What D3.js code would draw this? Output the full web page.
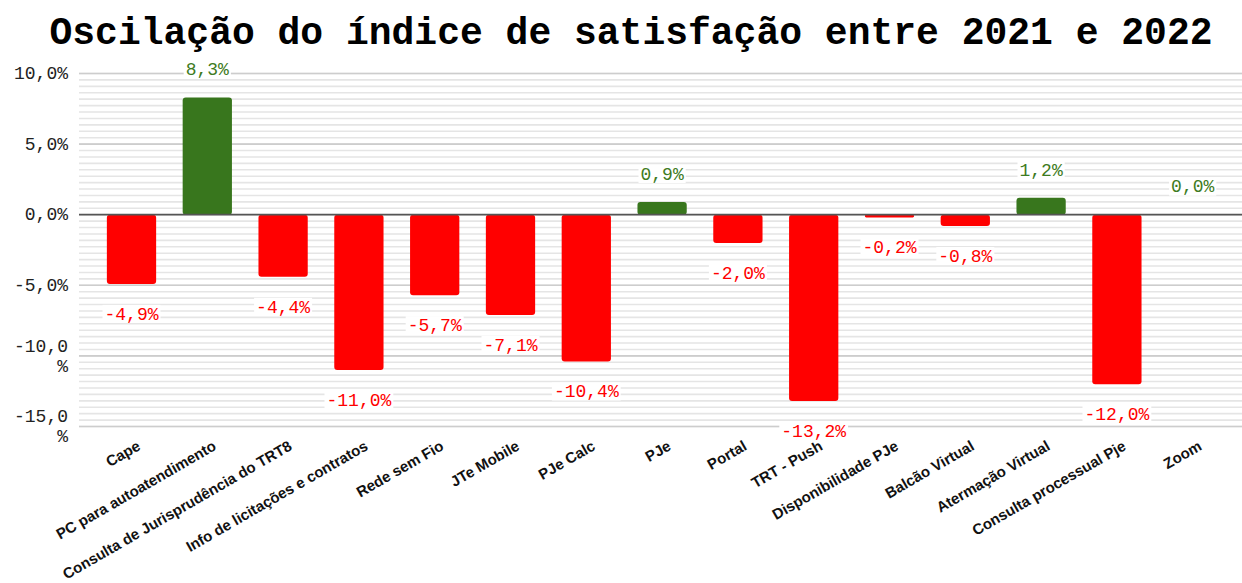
<!DOCTYPE html>
<html><head><meta charset="utf-8">
<script src="https://cdn.jsdelivr.net/npm/d3@7"></script>
<style>body{margin:0;background:#fff;} svg{display:block;}</style>
</head><body>
<svg id="c" width="1242" height="583"></svg>
<script>
const title = "Oscilação do índice de satisfação entre 2021 e 2022";
const categories = ["Cape","PC para autoatendimento","Consulta de Jurisprudência do TRT8","Info de licitações e contratos","Rede sem Fio","JTe Mobile","PJe Calc","PJe","Portal","TRT - Push","Disponibilidade PJe","Balcão Virtual","Atermação Virtual","Consulta processual Pje","Zoom"];
const values = [-4.9, 8.3, -4.4, -11.0, -5.7, -7.1, -10.4, 0.9, -2.0, -13.2, -0.2, -0.8, 1.2, -12.0, 0.0];
const yTicks = [10, 5, 0, -5, -10, -15];

const svg = d3.select("#c");
const green = "#38761d", red = "#ff0000";
const fmt = v => (v < 0 ? "-" : "") + Math.abs(v).toFixed(1).replace(".", ",") + "%";

const y = d3.scaleLinear().domain([-15, 10]).range([426.5, 73.5]);
const x = d3.scaleBand().domain(categories).range([93.6, 1230.6]).paddingInner(0.35).paddingOuter(0.175);

// title
svg.append("text").attr("x", 631).attr("y", 44).attr("text-anchor", "middle")
  .attr("font-family", "Liberation Mono, monospace").attr("font-weight", "bold")
  .attr("font-size", 38).attr("fill", "#000").text(title);

// minor gridlines
const minorStep = 5 / 11;
const minor = d3.range(0, 56).map(i => -15 + i * minorStep).filter(v => v <= 10.001);
svg.append("g").selectAll("line").data(minor).join("line")
  .attr("x1", 79).attr("x2", 1242).attr("y1", d => y(d)).attr("y2", d => y(d))
  .attr("stroke", "#e5e5e5").attr("stroke-width", 1.6);
// major gridlines
svg.append("g").selectAll("line").data(yTicks.filter(d => d !== 0)).join("line")
  .attr("x1", 79).attr("x2", 1242).attr("y1", d => y(d)).attr("y2", d => y(d))
  .attr("stroke", "#cdcdcd").attr("stroke-width", 1.6);

// y tick labels
const yl = svg.append("g").attr("font-family", "Liberation Mono, monospace").attr("font-size", 18).attr("fill", "#222");
yTicks.forEach(t => {
  const s = fmt(t);
  if (s.length > 5) {
    const tx = yl.append("text").attr("text-anchor", "end").attr("x", 68);
    tx.append("tspan").attr("x", 68).attr("y", y(t) - 9).attr("dominant-baseline", "middle").text(s.slice(0, 5));
    tx.append("tspan").attr("x", 68).attr("y", y(t) + 11).attr("dominant-baseline", "middle").text(s.slice(5));
  } else {
    yl.append("text").attr("text-anchor", "end").attr("x", 68).attr("y", y(t) + 1)
      .attr("dominant-baseline", "middle").text(s);
  }
});

// bars
svg.append("g").selectAll("path").data(categories).join("path")
  .attr("d", (c, i) => {
    const v = values[i];
    const x0 = x(c), w = x.bandwidth();
    const y0 = y(Math.max(0, v)), y1 = y(Math.min(0, v));
    const h = y1 - y0;
    if (h <= 0) return "";
    const r = Math.min(3, h / 2);
    return `M${x0 + r},${y0} H${x0 + w - r} Q${x0 + w},${y0} ${x0 + w},${y0 + r} V${y1 - r} Q${x0 + w},${y1} ${x0 + w - r},${y1} H${x0 + r} Q${x0},${y1} ${x0},${y1 - r} V${y0 + r} Q${x0},${y0} ${x0 + r},${y0} Z`;
  })
  .attr("fill", (c, i) => values[i] >= 0 ? green : red);

// zero line
svg.append("line").attr("x1", 79).attr("x2", 1242).attr("y1", y(0)).attr("y2", y(0))
  .attr("stroke", "#555").attr("stroke-width", 1.8);

// data labels
const lg = svg.append("g").attr("font-family", "Liberation Mono, monospace").attr("font-size", 18);
categories.forEach((c, i) => {
  const v = values[i];
  const cx = x(c) + x.bandwidth() / 2;
  const cy = v >= 0 ? y(v) - 28 : y(v) + 30;
  const s = fmt(v);
  const w = s.length * 10.8;
  lg.append("rect").attr("x", cx - w / 2 - 2).attr("y", cy - 9).attr("width", w + 4).attr("height", 18).attr("fill", "#fff");
  lg.append("text").attr("x", cx).attr("y", cy + 1).attr("text-anchor", "middle").attr("dominant-baseline", "middle")
    .attr("fill", v >= 0 ? "#3e7b22" : red).text(s);
});

// x labels
svg.append("g").selectAll("text").data(categories).join("text")
  .attr("transform", c => `translate(${x(c) + x.bandwidth() / 2 + 10},449) rotate(-30)`)
  .attr("text-anchor", "end").attr("font-family", "Liberation Sans, Arial, sans-serif")
  .attr("font-weight", "bold").attr("font-size", 15).attr("fill", "#111").text(c => c);
</script>
</body></html>
